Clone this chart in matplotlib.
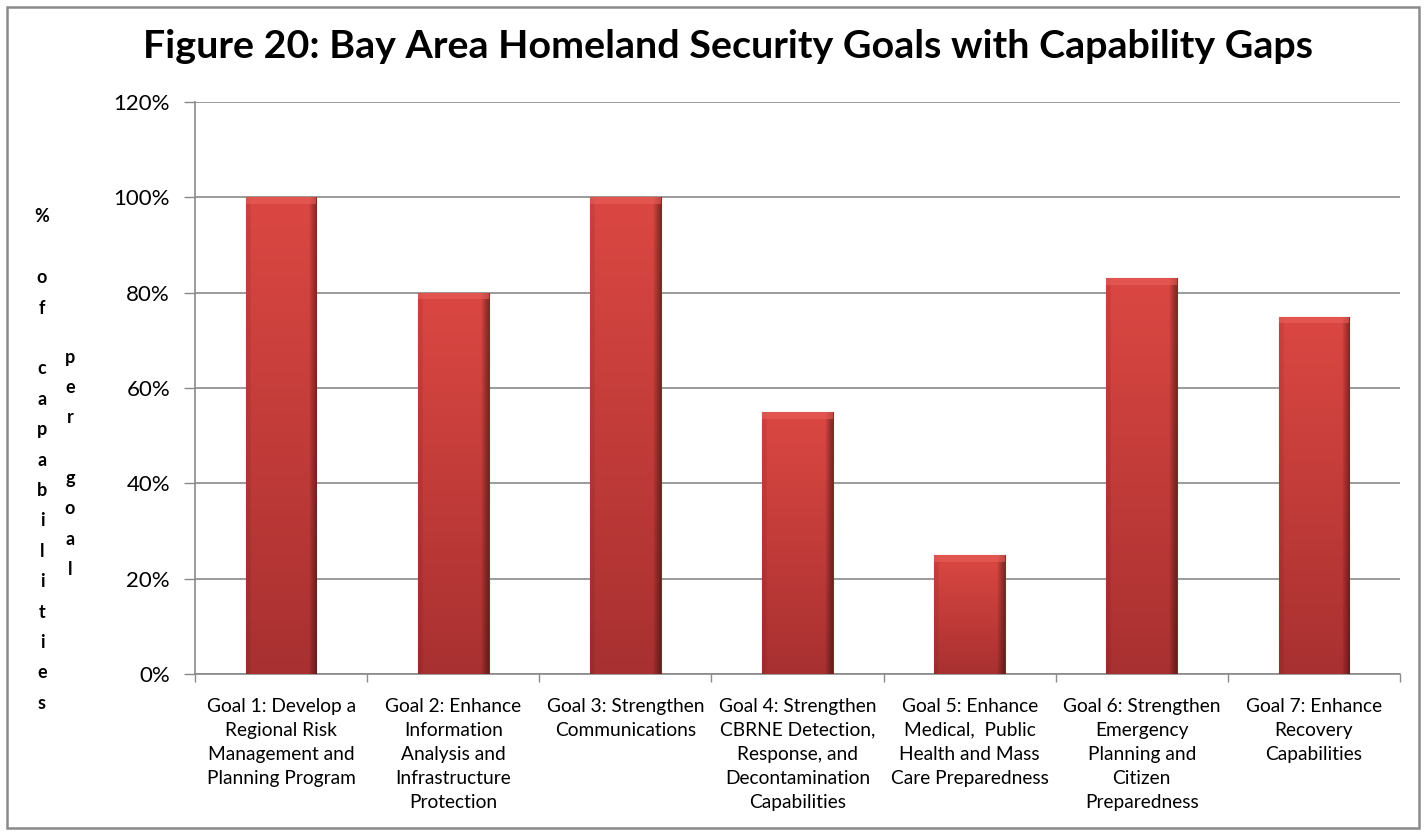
import matplotlib
matplotlib.use('Agg')
import matplotlib.pyplot as plt
from matplotlib.patches import Rectangle
import numpy as np

plt.rcParams['font.family'] = ['Lato', 'DejaVu Sans']

# chart data
goals = [
    "Goal 1: Develop a\nRegional Risk\nManagement and\nPlanning Program",
    "Goal 2: Enhance\nInformation\nAnalysis and\nInfrastructure\nProtection",
    "Goal 3: Strengthen\nCommunications",
    "Goal 4: Strengthen\nCBRNE Detection,\nResponse, and\nDecontamination\nCapabilities",
    "Goal 5: Enhance\nMedical,  Public\nHealth and Mass\nCare Preparedness",
    "Goal 6: Strengthen\nEmergency\nPlanning and\nCitizen\nPreparedness",
    "Goal 7: Enhance\nRecovery\nCapabilities",
]
values = [100, 80, 100, 55, 25, 83, 75]
yticks = [0, 20, 40, 60, 80, 100, 120]
title = "Figure 20: Bay Area Homeland Security Goals with Capability Gaps"
ylabel_col1 = "% of capabilities"
ylabel_col2 = "per goal"

W, H = 1426, 835
fig = plt.figure(figsize=(W / 100, H / 100), dpi=100)

# outer chart border
fig.patches.append(Rectangle((7 / W, 7 / H), (1419 - 7) / W, (828 - 7) / H,
                             transform=fig.transFigure, fill=False,
                             edgecolor='#8a8a8a', linewidth=1.8))

ax = fig.add_axes([195 / W, 1 - 674 / H, (1400 - 195) / W, (674 - 102) / H])

x = np.arange(len(values))
bars = ax.bar(x, values, width=0.41, color='#c43c38', edgecolor='#8a2a28',
              linewidth=0.8, zorder=3)

# simple bevel-like gradient on each bar
ny, nx = 200, 60
t = np.linspace(0, 1, ny).reshape(-1, 1)          # 0 bottom -> 1 top
top_c = np.array([0.86, 0.28, 0.26])
bot_c = np.array([0.66, 0.19, 0.19])
base = bot_c + (top_c - bot_c) * t[..., None]
u = np.linspace(0, 1, nx)
hfac = np.ones(nx)
hfac[u < 0.06] = 0.92
hfac[u > 0.90] = np.linspace(0.9, 0.6, (u > 0.90).sum())
img = np.clip(base * hfac[None, :, None], 0, 1)
for b in bars:
    x0, w, h = b.get_x(), b.get_width(), b.get_height()
    im = ax.imshow(img, extent=[x0, x0 + w, 0, h], origin='lower',
                   aspect='auto', zorder=3.5, interpolation='bilinear')
    im.set_clip_path(b)
    # lighter top bevel
    ax.add_patch(Rectangle((x0, h - 1.4), w, 1.4, facecolor='#e8605a',
                           edgecolor='none', alpha=0.6, zorder=3.6))

ax.set_xlim(-0.5, len(values) - 0.5)
ax.set_ylim(0, 120)
ax.set_yticks(yticks)
ax.set_yticklabels([f"{v}%" for v in yticks], fontsize=16)
ax.set_xticks(x)
ax.set_xticklabels(goals, fontsize=13.8, linespacing=1.5, va='top')
ax.set_xticks(np.arange(len(values) + 1) - 0.5, minor=True)
ax.tick_params(axis='x', which='major', length=0, pad=17)
ax.tick_params(axis='x', which='minor', length=6, color='#8a8a8a', width=1)
ax.tick_params(axis='y', length=8, color='#8a8a8a', width=1, pad=10)
ax.grid(axis='y', color='#8a8a8a', linewidth=1.2, zorder=0)
ax.set_axisbelow(True)
for s in ['top', 'right']:
    ax.spines[s].set_visible(False)
for s in ['left', 'bottom']:
    ax.spines[s].set_color('#8a8a8a')
    ax.spines[s].set_linewidth(1.2)

fig.text(728 / W, 1 - 46 / H, title, ha='center', va='center',
         fontsize=28.4, fontweight='bold')

# stacked-letter y axis label, two columns
step = 30.4
for col, (txt, cx, y0) in enumerate([(ylabel_col1, 42, 217),
                                     (ylabel_col2, 70, 357)]):
    for i, ch in enumerate(txt):
        if ch == ' ':
            continue
        fig.text(cx / W, 1 - (y0 + i * step) / H, ch, ha='center',
                 va='center', fontsize=13, fontweight='bold')

fig.savefig('out.png', dpi=100)
